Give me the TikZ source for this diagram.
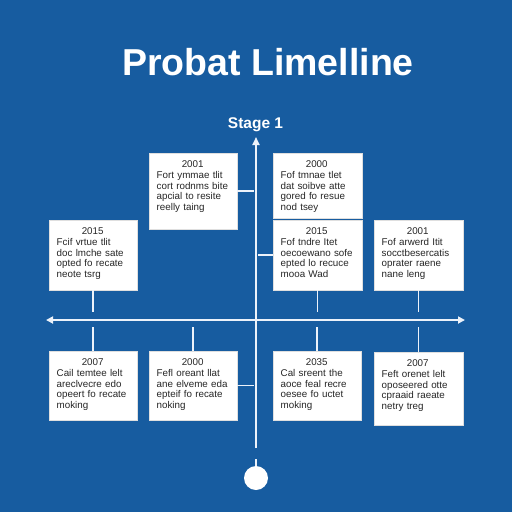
\documentclass[tikz,border=0pt]{standalone}
\usepackage{fontspec}
\setmainfont{Liberation Sans}
\usetikzlibrary{arrows.meta}
\definecolor{bgblue}{RGB}{23,92,160}
\definecolor{axiswhite}{RGB}{236,242,250}
\tikzset{
    card/.style={rectangle, fill=white, draw=gray!25, line width=0.4pt, inner sep=0pt},
    cardtext/.style={inner sep=0pt, text width=76pt, align=left, font=\fontsize{9.8}{10.8}\selectfont, text=black!85},
    axis/.style={draw=axiswhite, line width=1.8pt},
    tick/.style={draw=axiswhite, line width=1.5pt}
}
\begin{document}
\begin{tikzpicture}[x=1pt, y=-1pt]
        \def\axisy{320}
        \def\axisx{256}

        \fill[bgblue] (0,0) rectangle (512,512);
        \useasboundingbox (0,0) rectangle (512,512);

        \node[anchor=base, text=white, font=\fontsize{37.5}{40}\selectfont\bfseries] (title) at (268,75) {Probat Limelline};
        \node[anchor=base, text=white, font=\fontsize{15.5}{17}\selectfont\bfseries] (stage) at (255.5,128.5) {Stage 1};

        % AXES
        \coordinate (vtop) at (\axisx,137);
        \coordinate (vbot) at (\axisx,448);
        \coordinate (hleft) at (46,\axisy);
        \coordinate (hright) at (465,\axisy);
        \draw[axis, -{Triangle[length=8pt,width=7pt]}] (vbot) -- (vtop);
        \draw[axis, {Triangle[length=7pt,width=7pt]}-{Triangle[length=7pt,width=7pt]}] (hleft) -- (hright);
        \node[circle, fill=white, minimum size=24pt, inner sep=0pt] (endpt) at (\axisx,478) {};
        \draw[tick] (endpt.north) -- ++(0,-7);

        % CARDS
        \foreach \nm/\x/\y/\w/\h/\yr/\la/\lb/\lc/\ld in {
            t1/149/153/88/76/2001/Fort ymmae tlit/cort rodnms bite/apcial to resite/reelly taing,
            t2/273/153/89/65/2000/Fof tmnae tlet/dat soibve atte/gored fo resue/nod tsey,
            t3/273/220/89/70/2015/Fof tndre Itet/oecoewano sofe/epted lo recuce/mooa Wad,
            t4/374/220/89/70/2001/Fof arwerd Itit/socctbesercatis/oprater raene/nane leng,
            t5/49/220/88/70/2015/Fcif vrtue tlit/doc lmche sate/opted fo recate/neote tsrg,
            b1/49/351/88/69/2007/Cail temtee lelt/areclvecre edo/opeert fo recate/moking,
            b2/149/351/88/69/2000/Fefl oreant llat/ane elveme eda/epteif fo recate/noking,
            b3/273/351/88/69/2035/Cal sreent the/aoce feal recre/oesee fo uctet/moking,
            b4/374/352/89/73/2007/Feft orenet lelt/oposeered otte/cpraaid raeate/netry treg} {
            \node[card, anchor=north west, minimum width=\w pt, minimum height=\h pt] (\nm) at (\x,\y) {};
            \node[cardtext, anchor=north west] (\nm txt) at ([xshift=7.5pt, yshift=-7.5pt]\nm.north west)
                {\makebox[72pt][c]{\yr}\\ \la\\ \lb\\ \lc\\ \ld};
        }

        % TICKS
        \foreach \nm in {t3,t4,t5} {
            \draw[tick, shorten >=8pt] (\nm.south) -- (\nm.south |- hleft);
        }
        \foreach \nm in {b1,b2,b3,b4} {
            \draw[tick, shorten >=7pt] (\nm.north) -- (\nm.north |- hleft);
        }
        \draw[tick, shorten >=2pt] (t1.east) -- (t1.east -| vtop);
        \draw[tick, shorten >=2pt] (b2.east) -- (b2.east -| vtop);
        \draw[tick, shorten >=2pt] (t3.west) -- (t3.west -| vtop);
    \end{tikzpicture}
\end{document}
